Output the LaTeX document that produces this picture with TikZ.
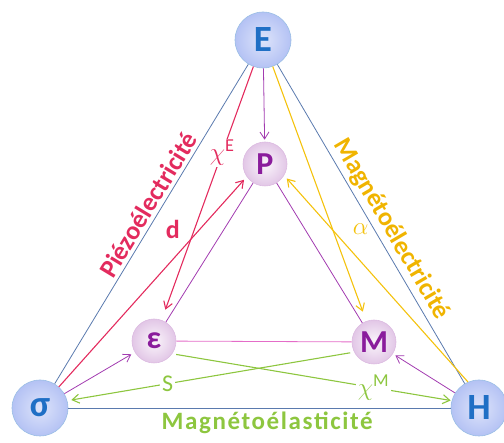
\documentclass[tikz,border=0pt]{standalone}
\usepackage{fontspec}
\setsansfont{Carlito}
\newfontfamily\wide[LetterSpace=6.5]{Carlito}
\usetikzlibrary{arrows.meta}
\definecolor{fr}{HTML}{5A7AAE}
\definecolor{pz}{HTML}{E32B5E}
\definecolor{me}{HTML}{F4C20D}
\definecolor{mt}{HTML}{F0B400}
\definecolor{ml}{HTML}{8DC63F}
\definecolor{vi}{HTML}{A23BB0}
\definecolor{ro}{HTML}{E46CC8}
\definecolor{bl}{HTML}{1F6FC5}
\definecolor{pu}{HTML}{8A1C9C}
\definecolor{cf}{HTML}{B4C2F4}
\newcommand{\Fs}[1]{\fontsize{#1}{#1}\selectfont}
\tikzset{
  field/.style={circle, minimum size=56pt, inner sep=0pt, draw=bl!45, line width=0.6pt,
    inner color=cf!45, outer color=cf,
    text=bl, font=\sffamily\bfseries\Fs{37}},
  resp/.style={circle, minimum size=44pt, inner sep=0pt, draw=pu!30, line width=0.6pt,
    inner color=pu!4, outer color=pu!25,
    text=pu, font=\sffamily\bfseries\Fs{32}},
  frame/.style={fr, line width=0.8pt},
  lnk/.style={line width=1.1pt, -{Straight Barb[length=7pt,width=9pt]}},
  lab/.style={font=\sffamily\bfseries\Fs{26}}
}
\begin{document}
\begin{tikzpicture}[x=1pt,y=-1pt]
  \useasboundingbox (0,0) rectangle (504,443);
  % champs et reponses
  \node[field] (E) at (263,40) {E};
  \node[field] (sig) at (40,408) {σ};
  \node[field] (H) at (479,408) {H};
  \node[resp] (P) at (265,164) {P};
  \node[resp] (eps) at (154,341) {ε};
  \node[resp] (M) at (374,342) {M};
  % grand triangle
  \draw[frame] (E) -- node[sloped, above=0pt, pos=0.46, lab, text=pz] {Piézoélectricité} (sig);
  \draw[frame] (E) -- node[sloped, above=0pt, pos=0.54, lab, text=mt] {Magnétoélectricité} (H);
  \draw[frame] (sig) -- node[below=0pt, pos=0.52, text=ml, font=\wide\bfseries\Fs{25}] {Magnétoélasticité} (H);
  % petit triangle
  \draw[vi, line width=0.8pt] (P) -- (eps);
  \draw[vi, line width=0.8pt] (P) -- (M);
  \draw[ro, line width=0.8pt] (eps) -- (M);
  % reponses directes
  \draw[lnk, vi, line width=0.8pt, shorten >=2pt] (E) -- (P);
  \draw[lnk, vi, line width=0.8pt, shorten >=4pt] (sig) -- (eps);
  \draw[lnk, vi, line width=0.8pt, shorten >=3pt] (H) -- (M);
  % couplages
  \draw[lnk, pz, shorten >=11pt] (E) -- node[pos=0.34, fill=white, inner sep=1pt, text=pz, font=\Fs{26}] {$\chi^{\mathsf{E}}$} (eps);
  \draw[lnk, pz, shorten >=4pt] (sig) -- node[pos=0.75, xshift=-27pt, lab, text=pz] {d} (P.-145);
  \draw[lnk, me, shorten >=10pt] (E) -- node[pos=0.64, xshift=28pt, text=me, font=\Fs{28}] {$\alpha$} (M);
  \draw[lnk, me, shorten >=4pt] (H.113) -- (P.-31);
  \draw[lnk, ml, shorten <=4pt, shorten >=4pt] (M.207) -- node[pos=0.65, fill=white, inner sep=2pt, text=ml, font=\sffamily\Fs{24}] {S} (sig.15);
  \draw[lnk, ml, shorten <=4pt, shorten >=1pt] (eps.-35) -- node[pos=0.72, fill=white, inner sep=2pt, text=ml, font=\Fs{26}] {$\chi^{\mathsf{M}}$} (H.165);
\end{tikzpicture}
\end{document}
